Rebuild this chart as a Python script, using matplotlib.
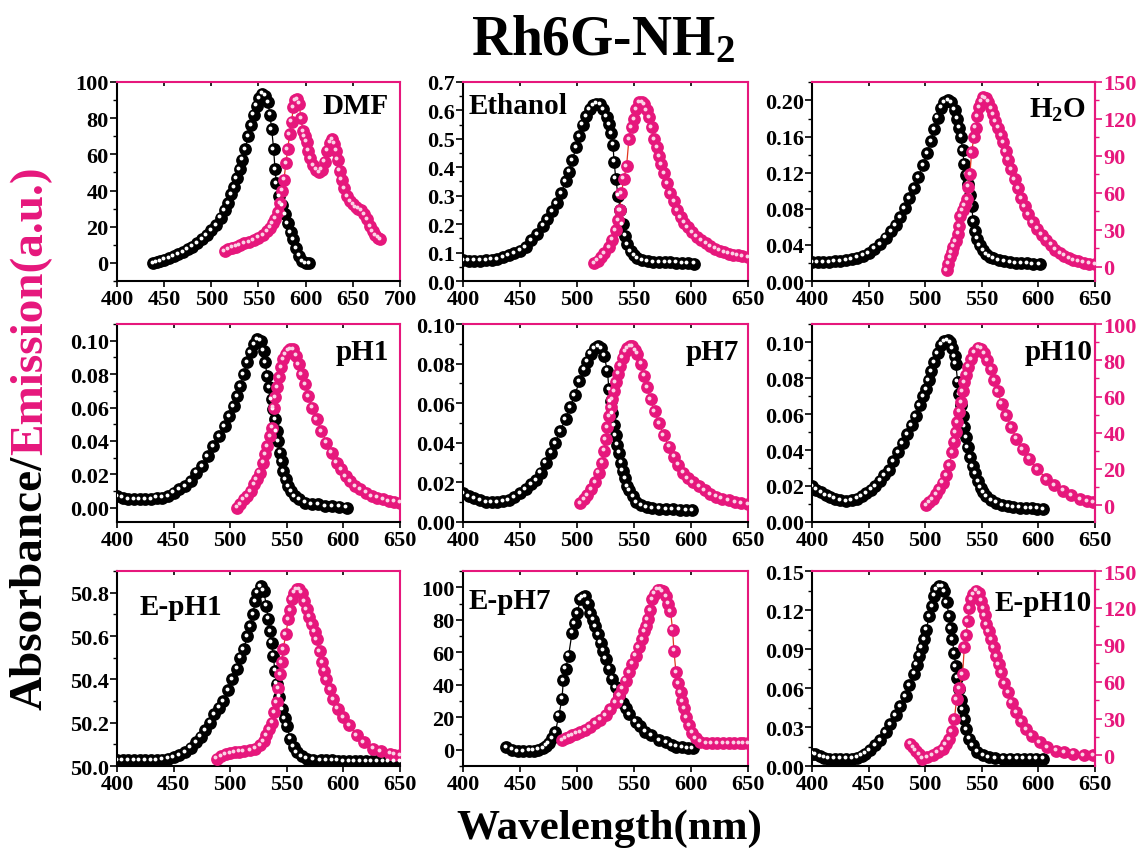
import matplotlib
matplotlib.use("Agg")
import matplotlib.pyplot as plt
from matplotlib.transforms import offset_copy
from matplotlib.ticker import MultipleLocator, FormatStrFormatter, AutoMinorLocator

plt.rcParams['font.family'] = ['Liberation Serif', 'DejaVu Serif']
plt.rcParams['font.weight'] = 'bold'
plt.rcParams['mathtext.fontset'] = 'custom'
plt.rcParams['mathtext.rm'] = 'Liberation Serif:bold'
plt.rcParams['mathtext.bf'] = 'Liberation Serif:bold'
plt.rcParams['mathtext.it'] = 'Liberation Serif:bold'

PINK = '#e6177c'
LINE_RED = '#e3361f'

# ---- DMF ----
dmf_abs_wl = [438, 442, 446, 450, 455, 460, 465, 470, 475, 480, 485, 490, 495, 500, 505, 510, 514, 518,
              521, 524, 527, 530, 533, 536, 539, 542, 545, 548, 551, 554, 557, 560, 562, 564, 566, 567.5,
              569, 572, 575, 578, 581, 584, 587, 590, 593, 596, 600, 604]
dmf_abs = [0, 0.5, 1, 1.8, 2.8, 3.8, 5, 6, 7.5, 9, 11, 13, 15.5, 18, 21, 25, 29, 33,
           38, 42, 47, 52, 57, 63, 70, 76, 82, 87, 91, 93.5, 92.5, 89, 82, 74, 63, 52,
           44, 37, 32, 27, 22, 17, 13, 8, 4, 1, 0, 0]
dmf_em_wl = [514, 518, 522, 526, 530, 535, 540, 545, 550, 555, 559, 562, 565, 568, 571, 573, 575, 577,
             579, 581, 583, 585, 587, 589, 591, 593, 595, 597, 599, 601, 603, 605, 608, 611, 614, 617,
             620, 623, 626, 628, 630, 632, 634, 636, 638, 641, 644, 647, 650, 653, 656, 659, 662, 665,
             668, 671, 674, 677, 679]
dmf_em = [6.5, 7.5, 8.5, 9, 10, 11, 11.5, 12.5, 14, 15.5, 17.5, 19.5, 22, 24.5, 28, 33, 40, 46,
          55, 63, 71, 78, 86, 90, 90.5, 88, 80, 73, 70, 67, 62, 58, 54, 51.5, 50, 51.5,
          56, 62, 66.5, 68.5, 66, 62, 57, 51, 46, 41.5, 37, 34, 32.5, 31, 30, 29, 27, 24,
          20.5, 17.5, 15.5, 14, 13]

# ---- Ethanol ----
eth_abs_wl = [400, 405, 410, 415, 420, 425, 430, 435, 440, 445, 450, 455, 460, 465, 470, 474, 478, 482,
              486, 490, 493, 496, 499, 502, 505, 508, 511, 514, 517, 520, 523, 526, 528, 530, 531.5,
              532.5, 534, 536, 538, 540, 542, 544, 547, 550, 553, 557, 562, 567, 572, 577, 582, 587,
              592, 597, 603]
eth_abs = [0.073, 0.072, 0.072, 0.072, 0.073, 0.075, 0.078, 0.083, 0.09, 0.098, 0.107, 0.12, 0.143,
           0.165, 0.195, 0.218, 0.245, 0.274, 0.31, 0.35, 0.385, 0.425, 0.47, 0.51, 0.55, 0.58, 0.605,
           0.618, 0.624, 0.622, 0.605, 0.578, 0.552, 0.52, 0.48, 0.42, 0.36, 0.30, 0.25, 0.2, 0.16,
           0.13, 0.105, 0.09, 0.08, 0.073, 0.069, 0.067, 0.066, 0.066, 0.066, 0.065, 0.064, 0.063, 0.061]
eth_em_wl = [515, 518, 521, 524, 528, 531, 534, 536, 537.5, 539, 541, 543.5, 545.5, 548, 550, 552, 554.5,
             557, 559, 561, 563, 565.5, 567.5, 570, 572, 574, 576.5, 579, 582, 585, 588, 591, 594, 597,
             601, 605, 609, 613, 617, 621, 625, 629, 633, 637, 641, 645, 650]
eth_em = [0.062, 0.072, 0.085, 0.098, 0.12, 0.145, 0.18, 0.215, 0.25, 0.31, 0.36, 0.405, 0.5, 0.54,
          0.57, 0.605, 0.628, 0.63, 0.622, 0.6, 0.576, 0.54, 0.5, 0.47, 0.44, 0.41, 0.38, 0.345, 0.31,
          0.28, 0.25, 0.225, 0.205, 0.19, 0.172, 0.156, 0.144, 0.132, 0.122, 0.114, 0.107, 0.101,
          0.096, 0.093, 0.09, 0.088, 0.085]

# ---- H2O ----
h2o_abs_wl = [400, 405, 410, 415, 420, 425, 430, 435, 440, 445, 450, 455, 460, 465, 470, 474, 478, 482,
              486, 490, 494, 498, 502, 505, 508, 511, 514, 517, 520, 523, 526, 528, 530, 531.5, 533,
              534.5, 536, 538, 539.5, 541, 542.5, 544, 546, 548, 551, 554, 557, 560, 565, 570, 575,
              580, 585, 590, 595, 601]
h2o_abs = [0.021, 0.021, 0.021, 0.021, 0.022, 0.022, 0.023, 0.024, 0.026, 0.028, 0.031, 0.036, 0.041,
           0.048, 0.055, 0.062, 0.071, 0.081, 0.092, 0.103, 0.115, 0.128, 0.142, 0.155, 0.168, 0.181,
           0.192, 0.198, 0.2, 0.198, 0.19, 0.18, 0.17, 0.16, 0.145, 0.13, 0.118, 0.108, 0.095, 0.083,
           0.066, 0.055, 0.047, 0.04, 0.034, 0.03, 0.027, 0.025, 0.023, 0.022, 0.021, 0.02, 0.02,
           0.02, 0.019, 0.019]
h2o_em_wl = [519, 520.5, 522, 523.5, 525, 527, 529, 530, 531, 533, 535, 537, 538, 539.5, 541, 543, 544.5,
             546, 547.5, 549.5, 551.5, 553.5, 555.5, 558, 560, 562, 564.5, 567, 569, 571, 573.5, 576,
             579, 582, 585, 588, 591, 595, 599, 603, 607, 611, 615, 619, 623, 627, 631, 635, 640, 645, 650]
h2o_em = [-2.7, 2.7, 8, 12, 16.4, 21, 27, 33, 41, 46, 50, 55, 65, 75, 93, 105, 113, 122, 129.5, 134,
          137.5, 137, 134, 129, 124, 118.5, 113, 107, 101, 94, 87, 79, 71, 64, 56, 49, 43, 36, 31, 26,
          22, 18, 14, 11, 9, 7, 5.5, 4.5, 3.5, 2.7, 2]

# ---- pH1 ----
ph1_abs_wl = [400, 405, 410, 415, 420, 425, 430, 435, 440, 445, 450, 455, 460, 465, 470, 475, 480, 485,
              490, 495, 499, 503, 506, 509, 512, 515, 518, 521, 524, 527, 529.5, 531, 532.5, 534.5,
              536.5, 538, 539.5, 541, 542.5, 544, 545.5, 547, 549, 551, 554, 557, 561, 566, 572, 578,
              584, 590, 596, 603]
ph1_abs = [0.007, 0.006, 0.005, 0.005, 0.005, 0.005, 0.005, 0.006, 0.006, 0.007, 0.009, 0.011, 0.013,
           0.016, 0.021, 0.025, 0.031, 0.037, 0.043, 0.049, 0.055, 0.061, 0.067, 0.073, 0.08, 0.087,
           0.093, 0.098, 0.101, 0.1, 0.094, 0.087, 0.079, 0.072, 0.065, 0.059, 0.053, 0.046, 0.04,
           0.033, 0.028, 0.022, 0.017, 0.013, 0.01, 0.007, 0.005, 0.003, 0.002, 0.002, 0.001, 0.001,
           0.0005, 0.0]
ph1_em_wl = [506, 509, 512, 515, 518, 521, 523.5, 526, 529, 531, 532.5, 535, 537, 538.5, 540, 541.5, 543,
             545, 547, 549, 551, 553, 555.5, 558, 560.5, 563, 566, 569, 572.5, 576.5, 580.5, 585, 589.5,
             594, 598, 602, 606, 610.5, 615, 620, 625, 630, 635, 640, 645, 650]
ph1_em = [0.0, 0.002, 0.005, 0.007, 0.01, 0.014, 0.017, 0.021, 0.027, 0.032, 0.037, 0.043, 0.048, 0.06,
          0.066, 0.072, 0.078, 0.084, 0.089, 0.092, 0.094, 0.095, 0.095, 0.091, 0.086, 0.08, 0.074,
          0.067, 0.06, 0.053, 0.046, 0.039, 0.033, 0.027, 0.023, 0.019, 0.016, 0.013, 0.011, 0.009,
          0.007, 0.006, 0.005, 0.004, 0.0035, 0.003]

# ---- pH7 ----
ph7_abs_wl = [400, 405, 410, 415, 420, 425, 430, 435, 440, 445, 450, 455, 460, 464, 468, 472.5, 477, 481,
              485, 490, 494, 498, 502, 506, 509, 512, 515.5, 518.7, 521, 523.7, 526.6, 528, 529.5, 531,
              532.5, 534, 535.5, 537, 538.5, 540, 542, 544, 546, 549, 552, 556, 561, 566, 572, 578,
              584, 590, 596, 601]
ph7_abs = [0.0145, 0.013, 0.012, 0.011, 0.010, 0.010, 0.010, 0.0105, 0.011, 0.0125, 0.0145, 0.0165,
           0.019, 0.021, 0.025, 0.030, 0.035, 0.040, 0.046, 0.052, 0.058, 0.064, 0.071, 0.077, 0.081,
           0.085, 0.088, 0.089, 0.088, 0.084, 0.0765, 0.067, 0.061, 0.055, 0.049, 0.044, 0.039, 0.035,
           0.030, 0.026, 0.022, 0.018, 0.016, 0.013, 0.010, 0.0085, 0.0075, 0.007, 0.0068, 0.0065,
           0.0065, 0.0063, 0.006, 0.006]
ph7_em_wl = [503, 506, 509, 512.5, 516, 519, 522, 523.5, 525, 526.5, 528, 529.5, 531, 532.5, 534, 536,
             538, 540, 542, 544, 546.5, 548.5, 551, 553, 556, 558.8, 561.5, 564.6, 568, 572, 576, 580.7,
             585, 589, 593, 597, 601.5, 607, 612, 617, 622, 627, 633, 639, 644, 650]
ph7_em = [0.0094, 0.0115, 0.0136, 0.0165, 0.020, 0.025, 0.030, 0.036, 0.042, 0.048, 0.0535, 0.058,
          0.062, 0.066, 0.0705, 0.075, 0.079, 0.083, 0.086, 0.088, 0.089, 0.089, 0.087, 0.085, 0.080,
          0.074, 0.068, 0.062, 0.056, 0.050, 0.044, 0.038, 0.033, 0.029, 0.025, 0.022, 0.020, 0.018,
          0.016, 0.014, 0.0128, 0.0118, 0.011, 0.010, 0.0095, 0.009]

# ---- pH10 ----
ph10_abs_wl = [400, 404, 408, 412, 416, 420, 425, 430, 435, 440, 444, 448, 452, 456, 460, 464, 468, 472,
               476, 480, 484, 488, 491.7, 495, 498, 500.6, 503, 505.5, 508, 511, 514, 517, 519.8, 522,
               524, 526, 527, 528.7, 530.2, 531.7, 533, 534.6, 536, 537.6, 539.5, 542, 544, 546.5, 549,
               551.5, 554, 558, 562.7, 568, 573, 578, 583.5, 589, 594, 599, 604]
ph10_abs = [0.02, 0.018, 0.0165, 0.015, 0.014, 0.013, 0.012, 0.0116, 0.012, 0.013, 0.0144, 0.016,
            0.018, 0.020, 0.023, 0.026, 0.029, 0.034, 0.039, 0.044, 0.049, 0.054, 0.059, 0.065, 0.07,
            0.074, 0.079, 0.084, 0.089, 0.094, 0.0985, 0.1005, 0.101, 0.1, 0.0967, 0.092, 0.088, 0.078,
            0.071, 0.065, 0.059, 0.053, 0.047, 0.0415, 0.036, 0.031, 0.027, 0.0228, 0.019, 0.0165,
            0.0144, 0.012, 0.0107, 0.0095, 0.0088, 0.0083, 0.0079, 0.0077, 0.0075, 0.0074, 0.0073]
ph10_em_wl = [500.6, 503.5, 506.5, 509.5, 512.4, 515.4, 518.4, 521, 524, 525.5, 527, 528.5, 530, 531.5,
              533, 534.5, 536, 538, 540.5, 543.5, 546.5, 549.5, 552, 555, 558, 561, 564, 567.5, 571.6,
              576, 580.5, 586, 592, 599, 607, 614, 622, 629, 636.7, 643, 648.5]
ph10_em = [0, 1.5, 3.3, 6, 8.9, 12.5, 16.4, 22, 29.4, 35, 40.5, 46, 51.7, 57, 62.9, 68, 72, 76.5, 80.5,
           84.5, 87, 86.5, 84, 80, 75, 69, 62.9, 56, 49.8, 43, 36.8, 31, 25.7, 20, 14.5, 11, 8, 5.5,
           3.3, 2.3, 1.5]

# ---- E-pH1 ----
eph1_abs_wl = [400, 405, 410, 415, 420, 425, 430, 435, 440, 445, 450, 455, 460, 465, 470, 474, 478, 482,
               486, 490, 494, 498.5, 502, 506, 509, 512, 515, 517.6, 520, 522, 524, 527, 529.5, 532,
               533.5, 535, 536.5, 538, 539.5, 541, 543, 545.6, 548, 550, 553, 556, 558.8, 563, 567.6,
               573, 580, 585, 590, 595, 600, 605, 610, 615, 620, 625, 630, 635, 640, 645, 650]
eph1_abs = [50.026, 50.026, 50.026, 50.026, 50.026, 50.026, 50.026, 50.028, 50.03, 50.034, 50.041,
            50.05, 50.065, 50.085, 50.11, 50.135, 50.165, 50.2, 50.24, 50.27, 50.3, 50.35, 50.4, 50.45,
            50.5, 50.54, 50.6, 50.647, 50.7, 50.76, 50.8, 50.83, 50.81, 50.74, 50.68, 50.624, 50.57,
            50.51, 50.44, 50.38, 50.32, 50.264, 50.22, 50.187, 50.126, 50.09, 50.064, 50.045, 50.034,
            50.03, 50.028, 50.027, 50.026, 50.025, 50.024, 50.024, 50.023, 50.023, 50.022, 50.022,
            50.022, 50.021, 50.021, 50.021, 50.021]
eph1_em_wl = [488, 492, 496, 500, 504, 508, 512, 517.6, 522, 526.5, 529.5, 532, 534.5, 536.8, 539, 541,
              542.5, 544, 545.5, 547, 549, 551.5, 553, 554.4, 556.5, 558.8, 561, 563, 565.5, 567.6, 570,
              572, 574.5, 576.5, 579, 581, 583, 585, 588, 591, 595, 600, 605, 611.8, 618, 626.5, 633,
              641, 645, 650]
eph1_em = [50.034, 50.045, 50.055, 50.06, 50.064, 50.066, 50.068, 50.072, 50.08, 50.095, 50.115,
           50.141, 50.17, 50.20, 50.25, 50.294, 50.36, 50.425, 50.48, 50.54, 50.61, 50.678, 50.72, 50.77,
           50.8, 50.815, 50.815, 50.80, 50.76, 50.724, 50.69, 50.655, 50.62, 50.586, 50.53, 50.478,
           50.44, 50.40, 50.355, 50.31, 50.265, 50.225, 50.19, 50.141, 50.11, 50.08, 50.068, 50.057,
           50.053, 50.05]

# ---- E-pH7 ----
eph7_abs_wl = [438, 443, 448, 453, 458, 462, 466, 470, 473, 475, 478, 481, 484, 486.8, 488, 490, 492.6,
               495.6, 498, 500, 503, 505, 507, 509.5, 511.8, 514, 516, 518.5, 520.6, 523, 525, 528, 531,
               534, 536.8, 540, 542.6, 546, 551.5, 555, 560, 565, 572, 578, 583, 587, 592, 597, 601.5]
eph7_abs = [1.4, 0, -1, -1, -0.5, -0.5, 0, 1, 2.5, 4, 7, 11, 21, 31.5, 42.7, 50, 58, 72, 78, 84, 92.5,
            94, 94.5, 90, 84, 80, 76, 71, 66, 61, 56, 50, 43.7, 38.5, 33.5, 29, 25.4, 22, 17.3, 14.5,
            11.2, 9, 6.1, 4.5, 3, 2, 1.5, 1, 1]
eph7_em_wl = [486.8, 490, 493, 495.6, 499, 503, 507, 511, 516, 520, 525, 529, 533.8, 537, 539.7, 542.6,
              545.6, 548.5, 551.5, 554, 557, 559, 560.5, 562, 564, 566, 568, 570.6, 573, 575, 578, 580,
              582, 583.8, 585, 586.8, 589, 591, 592.5, 594, 596, 598.5, 601, 604, 608, 613, 618, 623,
              628, 633, 638, 642.6, 646, 650]
eph7_em = [6.1, 7, 8, 9.1, 10, 11, 12.2, 14, 16.3, 18.5, 21.3, 25, 29.5, 33.5, 37.6, 42.5, 47.8, 53,
           58, 63, 68, 73, 76, 80.3, 86, 92.5, 96, 98.6, 98.5, 97.6, 94.5, 90, 85.4, 74, 61, 47.8, 41,
           35.6, 30, 25.4, 20, 15.2, 10.5, 7.1, 5, 4, 4, 4, 4, 4, 4, 4, 4, 4]

# ---- E-pH10 ----
eph10_abs_wl = [400, 403, 407, 411, 414.8, 420, 425, 430, 435.5, 440, 444, 447, 451, 456, 460, 465, 469,
                474, 478, 482.8, 486, 490, 492.5, 494.7, 497, 499, 501, 503.6, 506, 508, 510, 512.4,
                515, 517, 519, 521, 522.5, 524, 525.5, 527, 528.5, 530, 531.5, 533, 534.5, 536, 539,
                542, 546, 551, 556, 562, 568.7, 575, 581, 587, 593, 598, 604]
eph10_abs = [0.0095, 0.009, 0.0075, 0.0065, 0.0056, 0.0056, 0.0056, 0.0056, 0.0056, 0.0065, 0.008,
             0.0095, 0.012, 0.0158, 0.02, 0.026, 0.032, 0.039, 0.046, 0.054, 0.062, 0.071, 0.078, 0.085,
             0.091, 0.0976, 0.105, 0.1155, 0.123, 0.131, 0.136, 0.1385, 0.138, 0.1346, 0.126, 0.1155,
             0.106, 0.0976, 0.087, 0.077, 0.068, 0.059, 0.051, 0.044, 0.036, 0.0286, 0.021, 0.0158,
             0.011, 0.0082, 0.007, 0.006, 0.0056, 0.0056, 0.0056, 0.0056, 0.0056, 0.0056, 0.0056]
eph10_em_wl = [487, 489.5, 491.7, 494.5, 497.6, 502, 506.5, 511, 515.4, 518, 521, 523.5, 525.8, 527.8,
               530, 533, 534.6, 536, 537.6, 539, 540.5, 542.5, 545, 547.5, 549.5, 551, 552.5, 554, 556,
               558, 560.5, 562.7, 565, 567, 570, 573, 576.5, 580.5, 584.5, 589, 594, 601, 608, 616, 623,
               630.8, 640, 648.5]
eph10_em = [9.5, 7, 4, 1, -2.7, -1.5, 0, 2.5, 5.4, 9, 13.5, 20, 29.7, 46, 55, 66, 88, 98, 109.5, 120,
            127, 131, 134, 132, 126, 120, 114, 107, 101, 94.6, 88, 81, 74, 67.6, 59, 51.4, 43, 35,
            28, 21.6, 16, 10.8, 7, 4, 2.5, 1.4, 0.5, 0]

# panel layout: (abs wl, abs, em wl, em, label, label pos, ylim, ytick step, fmt, xmax, right axis)
panels = [
    (dmf_abs_wl, dmf_abs, dmf_em_wl, dmf_em, 'DMF', (0.96, 0.88, 'right'), (-10, 100), 20, '%d', 700, None),
    (eth_abs_wl, eth_abs, eth_em_wl, eth_em, 'Ethanol', (0.02, 0.88, 'left'), (0, 0.7), 0.1, '%.1f', 650, None),
    (h2o_abs_wl, h2o_abs, h2o_em_wl, h2o_em, 'H$_2$O', (0.97, 0.86, 'right'), (0, 0.2205), 0.04, '%.2f', 650,
     ((-11.5, 150), 30)),
    (ph1_abs_wl, ph1_abs, ph1_em_wl, ph1_em, 'pH1', (0.96, 0.86, 'right'), (-0.0086, 0.110), 0.02, '%.2f', 650, None),
    (ph7_abs_wl, ph7_abs, ph7_em_wl, ph7_em, 'pH7', (0.97, 0.86, 'right'), (0, 0.10), 0.02, '%.2f', 650, None),
    (ph10_abs_wl, ph10_abs, ph10_em_wl, ph10_em, 'pH10', (0.99, 0.86, 'right'), (0, 0.110), 0.02, '%.2f', 650,
     ((-9.3, 100), 20)),
    (eph1_abs_wl, eph1_abs, eph1_em_wl, eph1_em, 'E-pH1', (0.08, 0.82, 'left'), (50.0, 50.9), 0.2, '%.1f', 650, None),
    (eph7_abs_wl, eph7_abs, eph7_em_wl, eph7_em, 'E-pH7', (0.02, 0.85, 'left'), (-10, 110), 20, '%d', 650, None),
    (eph10_abs_wl, eph10_abs, eph10_em_wl, eph10_em, 'E-pH10', (0.99, 0.84, 'right'), (0, 0.15), 0.03, '%.2f', 650,
     ((-8.6, 150), 30)),
]

fig = plt.figure(figsize=(11.38, 8.53), dpi=100)

col_left = [0.1028, 0.4069, 0.7135]
col_w = [0.2487, 0.2504, 0.2487]
row_bottom = [0.6694, 0.3869, 0.1008]
row_h = [0.2333, 0.232, 0.2286]


def draw_series(ax, wl, vals, color, shine, line_color):
    ax.plot(wl, vals, '-', color=line_color, lw=0.9, zorder=2)
    ax.plot(wl, vals, 'o', color=color, ms=9.2, mew=0, zorder=3)
    hl = offset_copy(ax.transData, fig=fig, x=-1.3, y=1.3, units='dots')
    ax.plot(wl, vals, 'o', color=shine, ms=2.8, mew=0, transform=hl, zorder=4)


for i, p in enumerate(panels):
    awl, ab, ewl, em, label, lpos, ylim, ystep, fmt, xmax, right = p
    r, c = divmod(i, 3)
    ax = fig.add_axes([col_left[c], row_bottom[r], col_w[c], row_h[r]])

    draw_series(ax, awl, ab, 'black', 'white', 'black')
    if right is None:
        draw_series(ax, ewl, em, PINK, '#fbd3e6', LINE_RED)
    else:
        ax2 = ax.twinx()
        draw_series(ax2, ewl, em, PINK, '#fbd3e6', LINE_RED)
        ax2.set_ylim(*right[0])
        ax2.yaxis.set_major_locator(MultipleLocator(right[1]))
        ax2.yaxis.set_minor_locator(AutoMinorLocator(2))
        ax2.tick_params(axis='y', which='major', direction='out', length=5, width=1.2,
                        colors=PINK, labelsize=16, pad=1)
        ax2.tick_params(axis='y', which='minor', direction='out', length=3, width=1, color=PINK)
        for s in ['left', 'top', 'bottom']:
            ax2.spines[s].set_visible(False)
        ax2.spines['right'].set_color(PINK)
        ax2.spines['right'].set_linewidth(1.5)
        for t in ax2.get_yticklabels():
            t.set_fontweight('bold')

    ax.set_xlim(400, xmax)
    ax.set_ylim(*ylim)
    ax.xaxis.set_major_locator(MultipleLocator(50))
    ax.yaxis.set_major_locator(MultipleLocator(ystep))
    ax.yaxis.set_minor_locator(AutoMinorLocator(2))
    ax.yaxis.set_major_formatter(FormatStrFormatter(fmt))
    if label == 'E-pH1':
        ax.set_yticks([50.0, 50.2, 50.4, 50.6, 50.8])
    if label == 'E-pH7':
        ax.set_yticks([0, 20, 40, 60, 80, 100])

    ax.tick_params(axis='y', which='major', direction='out', length=5, width=1.2, labelsize=16, pad=1)
    ax.tick_params(axis='y', which='minor', direction='out', length=3, width=1)
    ax.tick_params(axis='x', which='major', direction='out', length=4, width=1.2, labelsize=16, pad=2)

    # small inward ticks along the pink top edge
    top = ax.secondary_xaxis('top')
    top.set_xticks(range(400, xmax + 1, 50))
    top.tick_params(direction='in', length=3, width=1.2, labeltop=False)
    top.spines['top'].set_visible(False)

    ax.spines['left'].set_linewidth(1.5)
    ax.spines['bottom'].set_linewidth(1.5)
    ax.spines['top'].set_color(PINK)
    ax.spines['top'].set_linewidth(1.5)
    ax.spines['right'].set_color(PINK)
    ax.spines['right'].set_linewidth(1.5)
    for t in ax.get_xticklabels() + ax.get_yticklabels():
        t.set_fontweight('bold')

    ax.text(lpos[0], lpos[1], label, transform=ax.transAxes, ha=lpos[2], va='center',
            fontsize=21, fontweight='bold', zorder=10)

fig.text(0.53, 0.952, 'Rh6G-NH$_2$', ha='center', va='center', fontsize=40, fontweight='bold')
fig.text(0.535, 0.028, 'Wavelength(nm)', ha='center', va='center', fontsize=31, fontweight='bold')

# two-colour y label, stacked bottom to top
t1 = fig.text(0.027, 0.168, 'Absorbance/', rotation=90, ha='center', va='bottom',
              fontsize=34, fontweight='bold', color='black')
fig.canvas.draw()
bb = t1.get_window_extent()
fig.text(0.027, bb.y1 / fig.bbox.height, 'Emission(a.u.)', rotation=90, ha='center', va='bottom',
         fontsize=34, fontweight='bold', color=PINK)

fig.savefig('out.png', dpi=100)
